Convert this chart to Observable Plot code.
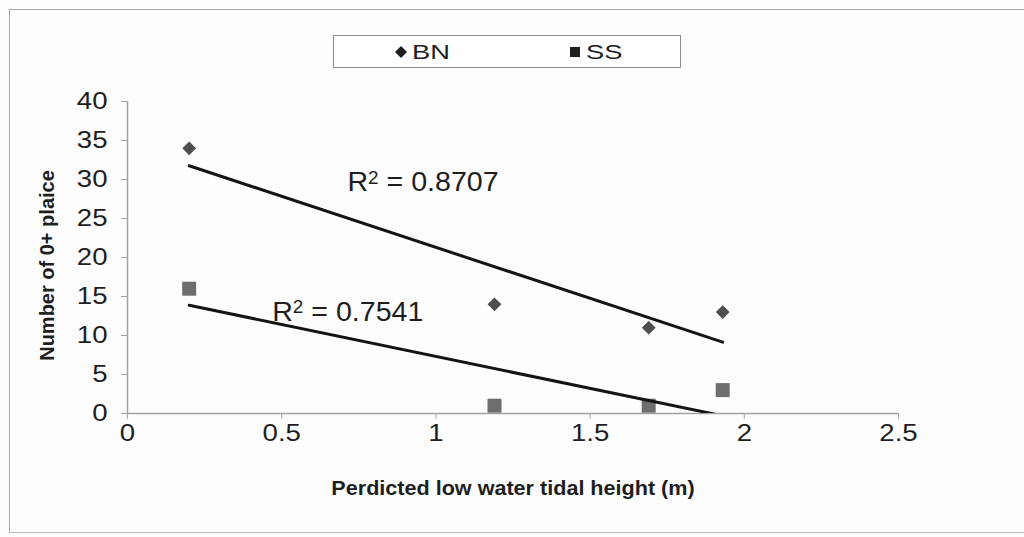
<!DOCTYPE html>
<html>
<head>
<meta charset="utf-8">
<script src="https://cdn.jsdelivr.net/npm/d3@7"></script>
<script src="https://cdn.jsdelivr.net/npm/@observablehq/plot@0.6"></script>
<style>
  html, body { margin: 0; padding: 0; background: #fff; }
  #chart {
    position: relative; width: 1024px; height: 537px; overflow: hidden;
    font-family: "Liberation Sans", Arial, sans-serif; background: #fdfdfd;
  }
  #frame {
    position: absolute; left: 9px; top: 9px; width: 1015px; height: 524px;
    border-top: 1px solid #a8a8a8; border-left: 1px solid #a8a8a8; border-bottom: 1px solid #b8b8b8;
    box-sizing: border-box; pointer-events: none;
  }
  #legend {
    position: absolute; left: 333px; top: 35px; width: 348px; height: 33px;
    border: 1px solid #8e8e8e; box-sizing: border-box; background: #fff;
  }
  #legend .item { position: absolute; top: 0; height: 31px; display: flex; align-items: center; }
  #legend .label {
    font-size: 21px; color: #1e1e1e; display: inline-block;
    transform: scaleX(1.3); transform-origin: left center; margin-left: 5px;
  }
</style>
</head>
<body>
<div id="chart">
  <div id="frame"></div>
  <div id="legend"></div>
</div>
<script>
// Predicted low-water tidal height (m) at each sampling occasion
const tidalHeight = [0.2, 1.19, 1.69, 1.93];
// Number of 0+ plaice caught at each beach
const countBN = [34, 14, 11, 13];
const countSS = [16, 1, 1, 3];
const seriesNames = ["BN", "SS"];
// Goodness of fit of the linear trend for each beach
const rSquaredValues = ["0.8707", "0.7541"];
const xTicks = [0, 0.5, 1, 1.5, 2, 2.5];
const yTicks = [0, 5, 10, 15, 20, 25, 30, 35, 40];
const xTitle = "Perdicted low water tidal height (m)";
const yTitle = "Number of 0+ plaice";

const rowsBN = tidalHeight.map((x, i) => ({x, y: countBN[i], series: seriesNames[0]}));
const rowsSS = tidalHeight.map((x, i) => ({x, y: countSS[i], series: seriesNames[1]}));

const colorBN = "#4e4e4e";
const colorSS = "#6e6e6e";
const axisGrey = "#a3a3a3";
const ink = "#1e1e1e";

const plot = Plot.plot({
  width: 1024,
  height: 537,
  marginLeft: 127,
  marginRight: 126,
  marginTop: 101,
  marginBottom: 124,
  style: {fontFamily: "'Liberation Sans', Arial, sans-serif", background: "transparent", color: ink},
  x: {domain: [0, 2.5]},
  y: {domain: [0, 40]},
  marks: [
    Plot.ruleY([0], {stroke: axisGrey, strokeWidth: 1.5}),
    Plot.ruleX([0], {stroke: axisGrey, strokeWidth: 1.5}),
    Plot.axisX({ticks: xTicks, tickSize: 6, tickPadding: 5, fontSize: 23, stroke: axisGrey, fill: ink, label: null, tickFormat: d => String(d)}),
    Plot.axisY({ticks: yTicks, tickSize: 6, tickPadding: 14, fontSize: 23, stroke: axisGrey, fill: ink, label: null, tickFormat: d => String(d)}),
    // markers
    Plot.dot(rowsBN, {x: "x", y: "y", symbol: "diamond2", r: 6.2, fill: colorBN}),
    Plot.dot(rowsSS, {x: "x", y: "y", symbol: "square", r: 7.9, fill: colorSS}),
    // least-squares trend lines, clipped to the plotting area
    Plot.linearRegressionY(rowsBN, {x: "x", y: "y", stroke: "#141414", strokeWidth: 3, ci: 0, clip: true}),
    Plot.linearRegressionY(rowsSS, {x: "x", y: "y", stroke: "#141414", strokeWidth: 3, ci: 0, clip: true}),
    // R² annotations
    Plot.text([rSquaredValues[0]], {x: 0.713, y: 29.6, text: d => `R2 = ${d}`, textAnchor: "start", fontSize: 27, fill: ink}),
    Plot.text([rSquaredValues[1]], {x: 0.469, y: 13.0, text: d => `R2 = ${d}`, textAnchor: "start", fontSize: 27, fill: ink}),
    // axis titles
    Plot.text([xTitle], {frameAnchor: "bottom", dy: 81, text: d => d, fontSize: 20, fontWeight: "bold", fill: ink}),
    Plot.text([yTitle], {frameAnchor: "left", textAnchor: "middle", dx: -80, dy: 8, rotate: -90, text: d => d, fontSize: 20, fontWeight: "bold", fill: ink})
  ]
});

const widen = (t, k) => t.setAttribute("transform", (t.getAttribute("transform") || "") + ` scale(${k},1)`);
// widen the tick labels to the chart's broad lettering
plot.querySelectorAll('g[aria-label$="tick label"] text').forEach(t => widen(t, 1.2));
plot.querySelectorAll("text").forEach(t => {
  if (t.textContent === xTitle) widen(t, 1.08);
  // set the "2" of R2 as a superscript
  if (t.textContent.startsWith("R2 = ")) {
    const rest = t.textContent.slice(2);
    t.textContent = "R";
    const sup = document.createElementNS("http://www.w3.org/2000/svg", "tspan");
    sup.setAttribute("dy", "-0.42em");
    sup.setAttribute("font-size", "0.66em");
    sup.textContent = "2";
    const tail = document.createElementNS("http://www.w3.org/2000/svg", "tspan");
    tail.setAttribute("dy", "0.277em");
    tail.textContent = rest;
    t.appendChild(sup);
    t.appendChild(tail);
    widen(t, 1.06);
  }
});
plot.style.position = "absolute";
plot.style.left = "0";
plot.style.top = "0";
document.getElementById("chart").appendChild(plot);

// legend
const legend = d3.select("#legend");
const items = [
  {name: seriesNames[0], left: 61, shape: "diamond"},
  {name: seriesNames[1], left: 235, shape: "square"}
];
items.forEach(it => {
  const div = legend.append("div").attr("class", "item").style("left", it.left + "px");
  const svg = div.append("svg").attr("width", 12).attr("height", 12);
  if (it.shape === "diamond") {
    svg.append("path").attr("d", "M6,0L12,6L6,12L0,6Z").attr("fill", ink);
  } else {
    svg.append("rect").attr("x", 1).attr("y", 1).attr("width", 10).attr("height", 10).attr("fill", ink);
  }
  div.append("span").attr("class", "label").text(it.name);
});
</script>
</body>
</html>
